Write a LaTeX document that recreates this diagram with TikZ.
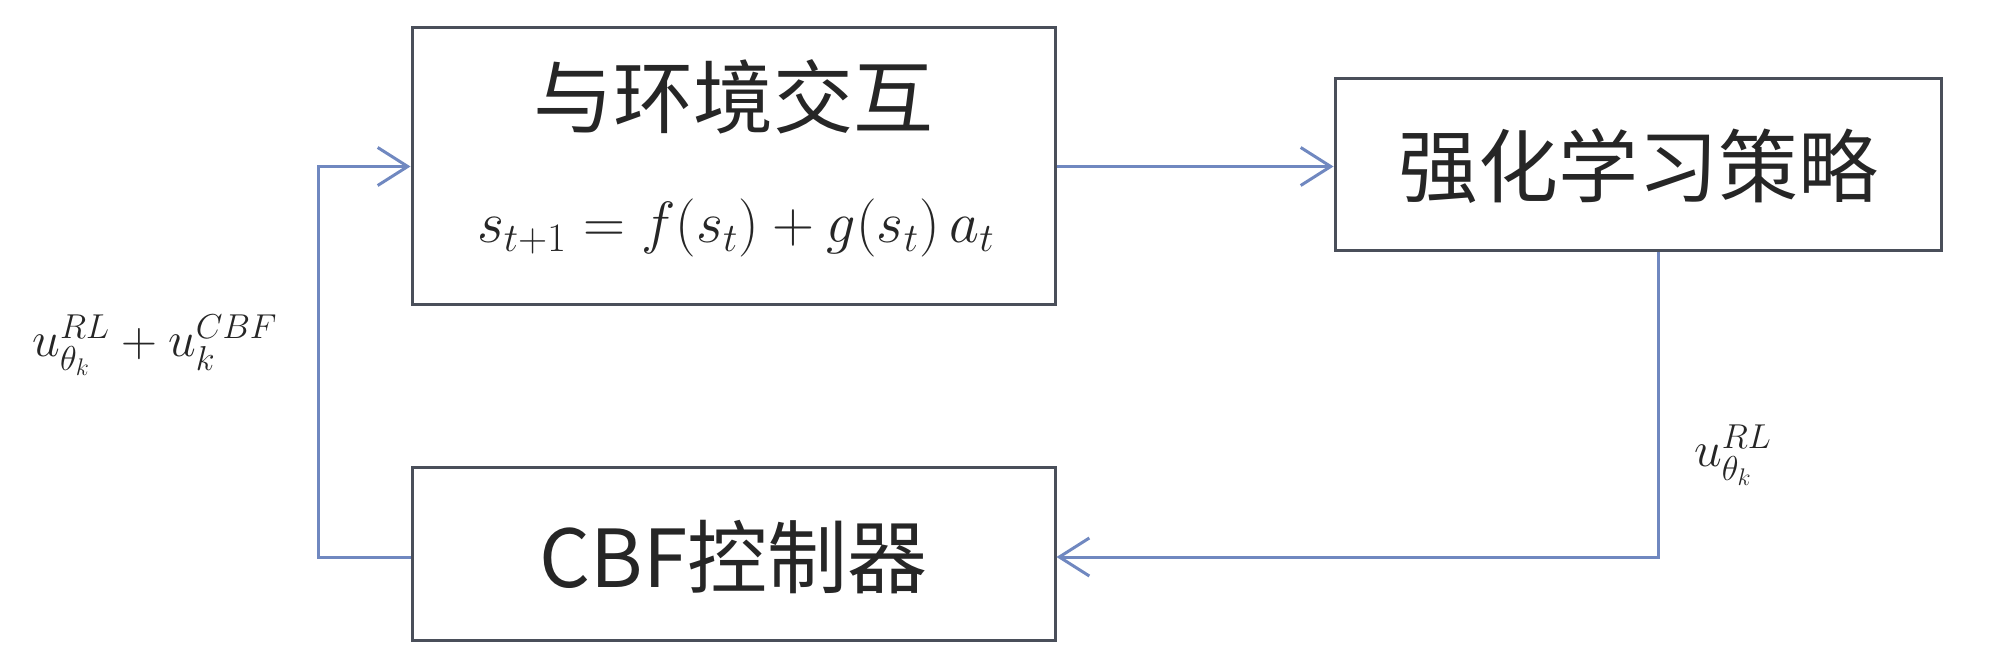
\documentclass[tikz,border=0pt]{standalone}
\usepackage{graphicx}
\usepackage{fontspec}
\usepackage{amsmath}
\newfontfamily\cjk{Noto Sans CJK SC}
\usetikzlibrary{arrows.meta}
\definecolor{boxline}{HTML}{4A4F5A}
\definecolor{arrline}{HTML}{7088C0}
\tikzset{
  blockbox/.style={draw=boxline, line width=1.5pt, rectangle, inner sep=0pt},
  titletext/.style={font=\cjk\fontsize{40pt}{44pt}\selectfont, inner sep=0pt, text=black!85},
  arr/.style={draw=arrline, line width=1.5pt, -{Straight Barb[length=15pt,width=19pt,line width=1.5pt]}},
  conn/.style={draw=arrline, line width=1.5pt},
  mathlabel/.style={inner sep=0pt, text=black!85}
}
\begin{document}
\begin{tikzpicture}[x=0.5pt,y=-0.5pt]
\useasboundingbox (0,0) rectangle (2000,667);
% boxes
\node[blockbox, minimum width=321.5pt, minimum height=138.5pt] (box1) at (733.5,166.5) {};
\node[blockbox, minimum width=303pt, minimum height=86pt] (box2) at (1638,165) {};
\node[blockbox, minimum width=321.5pt, minimum height=86pt] (box3) at (733.5,554) {};
% texts
\node[titletext] (t1) at (733.5,97) {与环境交互};
\node[mathlabel, font=\fontsize{24pt}{28pt}\selectfont] (eq) at (736,228) {\scalebox{1.17}{$s_{t+1}=f\!\left(s_t\vphantom{g}\right)+g\!\left(s_t\vphantom{g}\right)a_t$}};
\node[titletext] (t2) at (1638,166) {强化学习策略};
\node[titletext] (t3) at (733.5,557) {CBF控制器};
% labels
\node[mathlabel, font=\fontsize{24pt}{28pt}\selectfont] (l1) at (155,345) {$u_{\theta_k}^{RL}+u_k^{CBF}$};
\node[mathlabel, font=\fontsize{24pt}{28pt}\selectfont] (l2) at (1733,455) {$u_{\theta_k}^{RL}$};
% connectors
\coordinate (c1) at (1658,557);
\coordinate (c2) at (318,557);
\draw[arr] (box1.east) -- (box1.east -| box2.west);
\draw[arr] (box2.south -| c1) -- (c1) -- (c1 -| box3.east);
\draw[arr] (c2 -| box3.west) -- (c2) -- (c2 |- box1.west) -- (box1.west);
\end{tikzpicture}
\end{document}
